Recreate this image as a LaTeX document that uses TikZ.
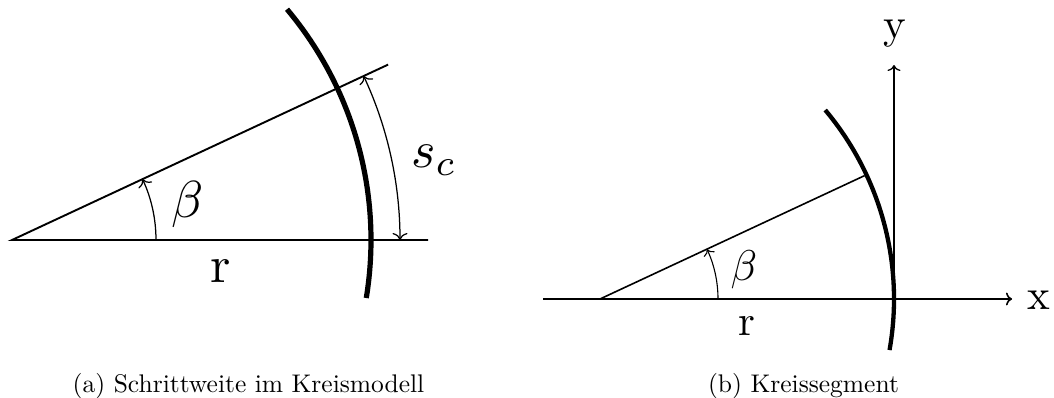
\documentclass[tikz,border=0pt]{standalone}
\usetikzlibrary{arrows.meta}
\begin{document}
\begin{tikzpicture}[x=1pt,y=1pt,
  mainline/.style={line width=1.9pt},
  heavyarc/.style={line width=5.2pt},
  dimline/.style={line width=1.25pt},
  mainlineb/.style={line width=1.6pt},
  heavyarcb/.style={line width=4.3pt},
  dimlineb/.style={line width=1.1pt},
  biglabel/.style={scale=5.2, inner sep=0pt},
  smalllabel/.style={scale=4.3, inner sep=0pt},
  captionlabel/.style={scale=2.55, anchor=base, inner sep=0pt}]
\useasboundingbox (0,-398) rectangle (1054,0);
% ---------- panel (a)
\begin{scope}[shift={(12,-240)}]
  \coordinate (Oa) at (0,0);
  \coordinate (Ha) at (416,0);
  \coordinate (Ua) at (25:415);
  \coordinate (ArcAstart) at (-9.3:359);
  \coordinate (ScStart) at (0:388);
  \coordinate (BetaAstart) at (0:144);
  \draw[mainline] (Ha) -- (Oa) -- (Ua);
  \draw[heavyarc] (ArcAstart) arc[start angle=-9.3, end angle=40, radius=359];
  \draw[dimline, {To[length=7pt,width=15pt]}-{To[length=7pt,width=15pt]}] (ScStart) arc[start angle=0, end angle=25, radius=388];
  \draw[dimline, -{To[length=7pt,width=15pt]}] (BetaAstart) arc[start angle=0, end angle=25, radius=144];
\end{scope}
\node[biglabel] (betaa) at (188,-205) {$\beta$};
\node[biglabel] (ra) at (221,-271) {r};
\node[biglabel] (sca) at (434,-160) {$s_c$};
\node[captionlabel] (capa) at (248.5,-392) {(a) Schrittweite im Kreismodell};
% ---------- panel (b)
\begin{scope}[shift={(600,-299)}]
  \coordinate (Ob) at (0,0);
  \coordinate (XLeft) at (-57,0);
  \coordinate (XRight) at (412,0);
  \coordinate (YBase) at (294,0);
  \coordinate (YTop) at (294,234);
  \coordinate (Ub) at (25:292);
  \coordinate (ArcBstart) at (-10:294);
  \coordinate (BetaBstart) at (0:118);
  \draw[mainlineb, -{To[length=6pt,width=13pt]}] (XLeft) -- (XRight);
  \draw[line width=1.3pt, -{To[length=6pt,width=13pt]}] (YBase) -- (YTop);
  \draw[mainlineb] (Ob) -- (Ub);
  \draw[heavyarcb] (ArcBstart) arc[start angle=-10, end angle=40, radius=294];
  \draw[dimlineb, -{To[length=6pt,width=12pt]}] (BetaBstart) arc[start angle=0, end angle=25, radius=118];
\end{scope}
\node[smalllabel] (betab) at (744,-270) {$\beta$};
\node[smalllabel] (rb) at (747,-326) {r};
\node[smalllabel] (xb) at (1039,-300) {x};
\node[smalllabel] (yb) at (895,-34) {y};
\node[captionlabel] (capb) at (803.5,-392) {(b) Kreissegment};
\end{tikzpicture}
\end{document}
